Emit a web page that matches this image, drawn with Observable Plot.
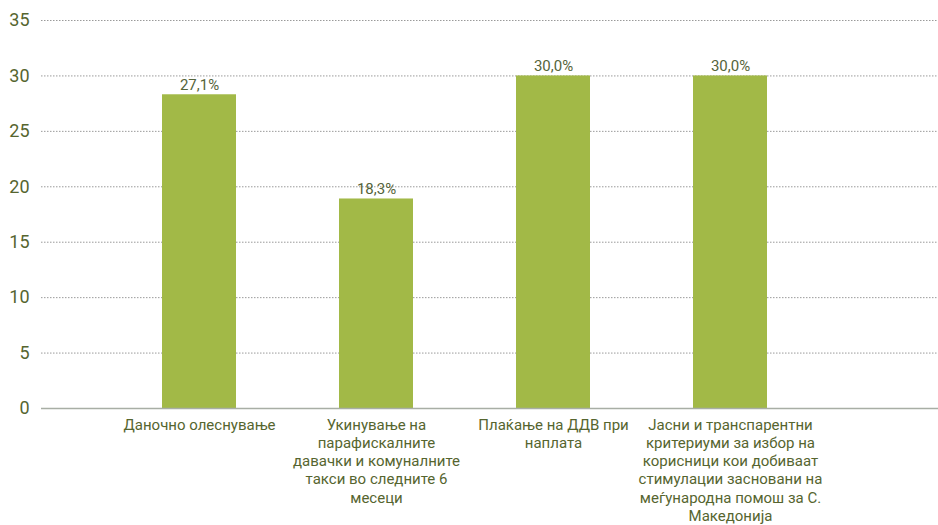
<!DOCTYPE html>
<html>
<head>
<meta charset="utf-8">
<script src="https://cdn.jsdelivr.net/npm/d3@7"></script>
<script src="https://cdn.jsdelivr.net/npm/@observablehq/plot@0.6"></script>
<style>
  html, body { margin: 0; padding: 0; background: #fff; }
</style>
</head>
<body>
<div id="chart"></div>
<script>
const categories = [
  "Даночно олеснување",
  "Укинување на парафискалните давачки и комуналните такси во следните 6 месеци",
  "Плаќање на ДДВ при наплата",
  "Јасни и транспарентни критериуми за избор на корисници кои добиваат стимулации засновани на меѓународна помош за С. Македонија"
];
const tickLabels = [
  "Даночно олеснување",
  "Укинување на\nпарафискалните\nдавачки и комуналните\nтакси во следните 6\nмесеци",
  "Плаќање на ДДВ при\nнаплата",
  "Јасни и транспарентни\nкритериуми за избор на\nкорисници кои добиваат\nстимулации засновани на\nмеѓународна помош за С.\nМакедонија"
];
const barValues = [28.3, 18.9, 30.0, 30.0];
const valueLabels = ["27,1%", "18,3%", "30,0%", "30,0%"];
const yTicks = [0, 5, 10, 15, 20, 25, 30, 35];

const data = categories.map((c, i) => ({cat: c, value: barValues[i], label: valueLabels[i]}));

const chart = Plot.plot({
  width: 938,
  height: 525,
  marginLeft: 41,
  marginRight: 0,
  marginTop: 20,
  marginBottom: 117,
  style: {fontFamily: "Roboto, sans-serif", color: "#56652f", background: "#fff"},
  x: {type: "band", domain: categories, range: [110, 818.5], paddingInner: 0.5822, paddingOuter: 0.2911, label: null},
  y: {domain: [0, 35], label: null},
  marks: [
    Plot.gridY(yTicks.filter(d => d > 0), {stroke: "#9a9a9a", strokeOpacity: 1, strokeDasharray: "1.5,1.5"}),
    Plot.barY(data, {x: "cat", y: "value", fill: "#a2b947"}),
    Plot.ruleY([0], {stroke: "#a8aea5", strokeWidth: 1.5}),
    Plot.text(data, {x: "cat", y: "value", text: "label", dy: -5, lineAnchor: "bottom", fontSize: 15, fill: "#55643a"}),
    Plot.axisY({ticks: yTicks, tickSize: 0, tickPadding: 12, fontSize: 18, label: null, fill: "#56652f"}),
    Plot.axisX({tickSize: 0, tickPadding: 8, fontSize: 15, lineHeight: 1.22, label: null, fill: "#56652f",
      tickFormat: d => tickLabels[categories.indexOf(d)]})
  ]
});
document.getElementById("chart").appendChild(chart);
</script>
</body>
</html>
